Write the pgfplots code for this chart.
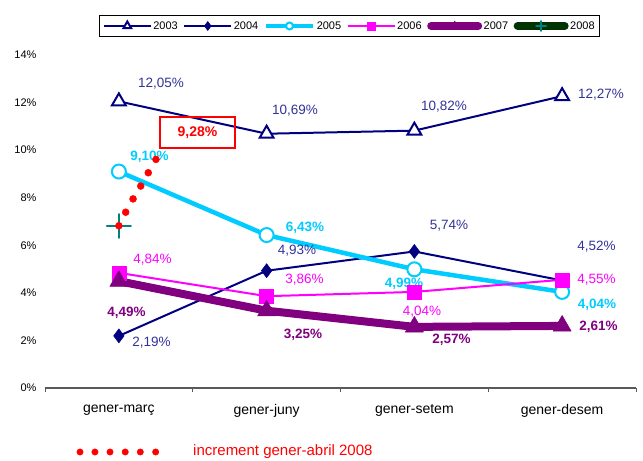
\documentclass[border=0pt]{standalone}
\usepackage{fontspec}
\setmainfont{Liberation Sans}
\usepackage{pgfplots}
\pgfplotsset{compat=1.18}

\definecolor{navy}{HTML}{000080}
\definecolor{lbl}{HTML}{333399}
\definecolor{cyanx}{HTML}{00CCFF}
\definecolor{magx}{HTML}{FF00FF}
\definecolor{purp}{HTML}{800080}
\definecolor{tealx}{HTML}{008080}
\definecolor{dkgreen}{HTML}{003300}

\newcommand{\lab}{\fontsize{13.5bp}{16bp}\selectfont}

\begin{document}
\begin{tikzpicture}
\useasboundingbox[fill=white] (0,0) rectangle (643bp,461bp);
\begin{axis}[
  at={(45bp,73bp)}, anchor=south west,
  scale only axis, width=591bp, height=333bp,
  xmin=-0.5, xmax=3.5, ymin=0, ymax=14,
  clip=false,
  axis x line*=bottom, axis y line*=left,
  x axis line style={-, draw=black!65, line width=1.2bp},
  y axis line style={draw=none},
  major tick length=0pt,
  tick style={draw=black!65, line width=1bp},
  xtick={0,1,2,3},
  xticklabels={gener-març,gener-juny,gener-setem,gener-desem},
  xticklabel style={font=\fontsize{14bp}{16bp}\selectfont, yshift=-13bp},
  extra x ticks={-0.5,0.5,1.5,2.5,3.5},
  extra x tick labels={},
  extra x tick style={tick align=outside, major tick length=4.5bp},
  ytick={0,2,4,6,8,10,12,14},
  yticklabels={0\%,2\%,4\%,6\%,8\%,10\%,12\%,14\%},
  yticklabel style={font=\fontsize{11bp}{13bp}\selectfont, xshift=-5bp},
  legend columns=6,
  legend style={at={(0.5152,1.0871)}, anchor=center, draw=black, line width=1bp,
    font=\fontsize{11bp}{13bp}\selectfont, inner xsep=3bp, inner ysep=4bp,
    nodes={inner sep=1.5bp},
    /tikz/every even column/.append style={column sep=4bp}},
  legend image code/.code={\draw[mark repeat=2,mark phase=2]
    plot coordinates {(0bp,0bp) (23.5bp,0bp) (47bp,0bp)};},
]
% 2003
\addplot[color=navy, line width=2bp, mark=triangle*, mark size=8bp,
  mark options={solid, line width=2bp, fill=white},
  legend image post style={mark size=4.5bp}]
  coordinates {(0,12.05) (1,10.69) (2,10.82) (3,12.27)};
\addlegendentry{2003}
% 2004
\addplot[color=navy, line width=2bp, mark=diamond*, mark size=7bp,
  mark options={solid, line width=0.5bp},
  legend image post style={mark size=4.5bp}]
  coordinates {(0,2.19) (1,4.93) (2,5.74) (3,4.52)};
\addlegendentry{2004}
% 2005
\addplot[color=cyanx, line width=4.5bp, mark=*, mark size=7bp,
  mark options={solid, line width=2bp, fill=white},
  legend image post style={mark size=3.5bp}]
  coordinates {(0,9.10) (1,6.43) (2,4.99) (3,4.04)};
\addlegendentry{2005}
% 2006
\addplot[color=magx, line width=2bp, mark=square*, mark size=7bp,
  mark options={solid, line width=0.5bp},
  legend image post style={mark size=4bp}]
  coordinates {(0,4.84) (1,3.86) (2,4.04) (3,4.55)};
\addlegendentry{2006}
% 2007
\addplot[color=purp, line width=8bp, line cap=round, line join=round,
  mark=triangle*, mark size=10.5bp,
  mark options={solid, line width=0.5bp},
  legend image post style={mark size=5bp}]
  coordinates {(0,4.49) (1,3.25) (2,2.57) (3,2.61)};
\addlegendentry{2007}
% 2008
\addplot[color=dkgreen, line width=8bp, line cap=round,
  mark=+, mark size=12bp,
  mark options={solid, draw=tealx, line width=1.8bp},
  legend image post style={mark size=5bp}]
  coordinates {(0,6.81)};
\addlegendentry{2008}
% increment gener-abril 2008
\addplot[forget plot, only marks, color=red, mark=*, mark size=3.5bp]
  coordinates {(0,6.82) (0.046,7.39) (0.096,7.95) (0.148,8.49) (0.199,9.05) (0.251,9.61)};
\addplot[forget plot, only marks, color=red, mark=*, mark size=3.2bp]
  coordinates {(-0.263,-2.69) (-0.162,-2.69) (-0.060,-2.69) (0.043,-2.69) (0.145,-2.69) (0.249,-2.69)};
\node[anchor=west, inner sep=0pt, text=red, font=\fontsize{15bp}{17bp}\selectfont]
  at (axis cs:0.502,-2.69) {increment gener-abril 2008};

% data labels
\begin{scope}[every node/.style={font=\lab, inner sep=0pt}]
\node[text=lbl] at (axis cs:0.285,12.78) {12,05\%};
\node[text=lbl] at (axis cs:1.192,11.65) {10,69\%};
\node[text=lbl] at (axis cs:2.200,11.81) {10,82\%};
\node[text=lbl] at (axis cs:3.263,12.32) {12,27\%};
\node[text=lbl] at (axis cs:0.221,1.89) {2,19\%};
\node[text=lbl] at (axis cs:1.206,5.76) {4,93\%};
\node[text=lbl] at (axis cs:2.234,6.81) {5,74\%};
\node[text=lbl] at (axis cs:3.233,5.93) {4,52\%};
\node[text=cyanx, font=\lab\bfseries] at (axis cs:0.207,9.71) {9,10\%};
\node[text=cyanx, font=\lab\bfseries] at (axis cs:1.260,6.73) {6,43\%};
\node[text=cyanx, font=\lab\bfseries] at (axis cs:1.930,4.37) {4,99\%};
\node[text=cyanx, font=\lab\bfseries] at (axis cs:3.236,3.49) {4,04\%};
\node[text=magx] at (axis cs:0.228,5.38) {4,84\%};
\node[text=magx] at (axis cs:1.256,4.54) {3,86\%};
\node[text=magx] at (axis cs:2.052,3.20) {4,04\%};
\node[text=magx] at (axis cs:3.233,4.54) {4,55\%};
\node[text=purp, font=\lab\bfseries] at (axis cs:0.052,3.15) {4,49\%};
\node[text=purp, font=\lab\bfseries] at (axis cs:1.246,2.23) {3,25\%};
\node[text=purp, font=\lab\bfseries] at (axis cs:2.251,2.02) {2,57\%};
\node[text=purp, font=\lab\bfseries] at (axis cs:3.246,2.56) {2,61\%};
\end{scope}
\node[draw=red, line width=1.5bp, minimum width=75bp, minimum height=31bp,
  text=red, font=\fontsize{14bp}{16bp}\selectfont\bfseries]
  at (axis cs:0.532,10.74) {9,28\%};
\end{axis}
\end{tikzpicture}
\end{document}
